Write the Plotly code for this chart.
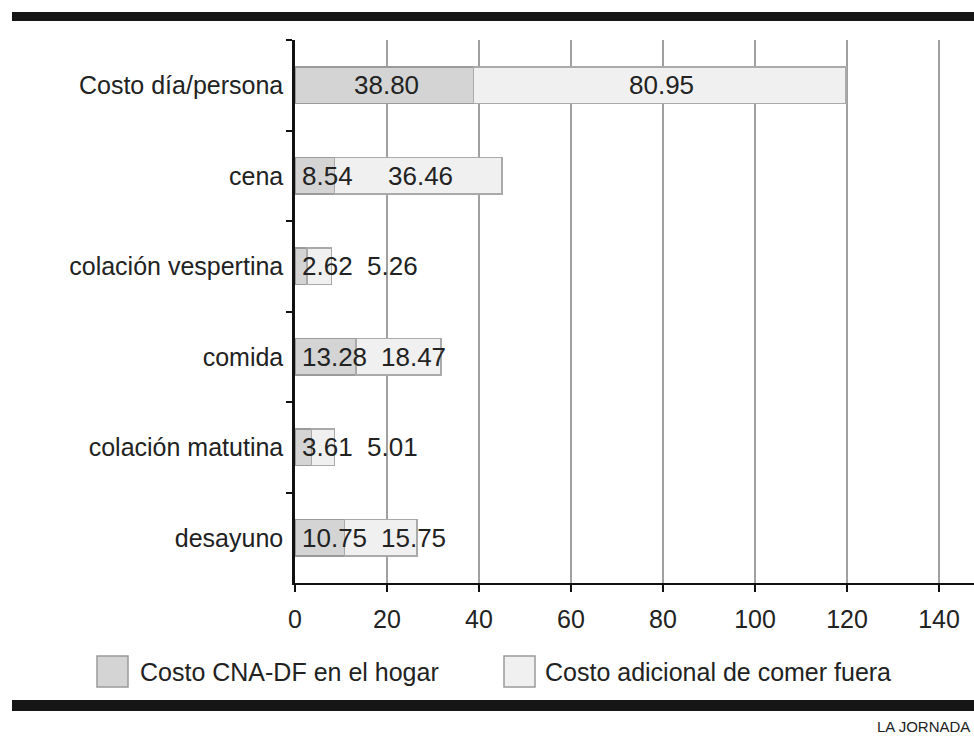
import plotly.graph_objects as go

# ---------------- data ----------------
categories = ["Costo día/persona", "cena", "colación vespertina", "comida",
              "colación matutina", "desayuno"]
costo_hogar = [38.80, 8.54, 2.62, 13.28, 3.61, 10.75]
costo_adicional = [80.95, 36.46, 5.26, 18.47, 5.01, 15.75]
x_ticks = [0, 20, 40, 60, 80, 100, 120, 140]
legend_labels = ["Costo CNA-DF en el hogar", "Costo adicional de comer fuera"]
credit = "LA JORNADA"

# ---------------- layout constants ----------------
W, H = 974, 737
ML, MR, MT, MB = 295, 0, 40, 154
PW, PH = W - ML - MR, H - MT - MB
PX_PER_UNIT = 4.6
XMAX = PW / PX_PER_UNIT

FONT = "Liberation Sans, Arial, Helvetica, sans-serif"
LBL_SIZE = 26
C_HOGAR = "#d4d4d4"
C_ADIC = "#f0f0f0"
EDGE = "#9a9a9a"
TXT = "#222222"


def px_x(px):
    return (px - ML) / PW


def px_y(py):
    return (H - MB - py) / PH


def text_w(s, size):
    w = 0.0
    for ch in s:
        w += 0.278 if ch == "." else 0.556
    return w * size


fig = go.Figure()
fig.add_trace(go.Bar(y=categories, x=costo_hogar, orientation="h",
                     name=legend_labels[0],
                     marker=dict(color=C_HOGAR, line=dict(color=EDGE, width=1.5)),
                     hoverinfo="x+y"))
fig.add_trace(go.Bar(y=categories, x=costo_adicional, orientation="h",
                     name=legend_labels[1],
                     marker=dict(color=C_ADIC, line=dict(color="#aaaaaa", width=1.5)),
                     hoverinfo="x+y"))

annotations = []
for cat, h, a in zip(categories, costo_hogar, costo_adicional):
    s1, s2 = f"{h:.2f}", f"{a:.2f}"
    w1, w2 = text_w(s1, LBL_SIZE), text_w(s2, LBL_SIZE)
    seg1_px = h * PX_PER_UNIT
    if seg1_px >= w1 + 10:
        left1 = seg1_px / 2 - w1 / 2
    else:
        left1 = 5
    end1 = left1 + w1
    center2 = (h + a / 2) * PX_PER_UNIT
    left2 = max(center2 - w2 / 2, end1 + 14)
    for s, left in ((s1, left1), (s2, left2)):
        annotations.append(dict(x=left / PX_PER_UNIT, y=cat, xref="x", yref="y",
                                text=s, showarrow=False, xanchor="left",
                                yanchor="middle",
                                font=dict(family=FONT, size=LBL_SIZE, color=TXT)))

# custom legend
shapes = []
leg_boxes = [(97, 128), (504, 535)]
leg_text_x = [138, 543]
leg_colors = [C_HOGAR, C_ADIC]
for (x0, x1), tx, col, lab in zip(leg_boxes, leg_text_x, leg_colors, legend_labels):
    shapes.append(dict(type="rect", xref="paper", yref="paper",
                       x0=px_x(x0), x1=px_x(x1), y0=px_y(687), y1=px_y(656),
                       fillcolor=col, line=dict(color=EDGE, width=1.5)))
    annotations.append(dict(x=px_x(tx), y=px_y(671.5), xref="paper", yref="paper",
                            text=lab, showarrow=False, xanchor="left",
                            yanchor="middle",
                            font=dict(family=FONT, size=25, color=TXT)))

# black bands
for y0, y1 in ((12, 21), (700, 711)):
    shapes.append(dict(type="rect", xref="paper", yref="paper",
                       x0=px_x(12), x1=px_x(W + 5), y0=px_y(y1), y1=px_y(y0),
                       fillcolor="#161616", line=dict(width=0), layer="above"))

annotations.append(dict(x=px_x(972), y=px_y(737), xref="paper", yref="paper",
                        text=credit, showarrow=False, xanchor="right", yanchor="bottom",
                        font=dict(family=FONT, size=15, color="#222")))

fig.update_layout(
    width=W, height=H,
    margin=dict(l=ML, r=MR, t=MT, b=MB, pad=0),
    barmode="stack", bargap=0.6,
    showlegend=False,
    plot_bgcolor="white", paper_bgcolor="white",
    font=dict(family=FONT, size=25, color=TXT),
    xaxis=dict(range=[0, XMAX], tickmode="array", tickvals=x_ticks,
               ticktext=[str(v) for v in x_ticks],
               showgrid=True, gridcolor="#a0a0a0", gridwidth=1.5,
               zeroline=False, showline=True, linecolor="#111", linewidth=2,
               ticks="outside", ticklen=7, tickwidth=2, tickcolor="#111",
               ticklabelstandoff=6,
               tickfont=dict(family=FONT, size=25, color=TXT),
               fixedrange=True),
    yaxis=dict(categoryorder="array", categoryarray=categories,
               autorange="reversed",
               showgrid=False, zeroline=False,
               showline=True, linecolor="#111", linewidth=2.5,
               ticks="outside", tickson="boundaries", ticklen=6, tickwidth=2,
               tickcolor="#111", ticklabelstandoff=4,
               tickfont=dict(family=FONT, size=25, color=TXT),
               fixedrange=True),
    shapes=shapes,
    annotations=annotations,
)

fig.write_html("out.html", config={"displayModeBar": False},
               post_script="document.body.style.margin='0';")
